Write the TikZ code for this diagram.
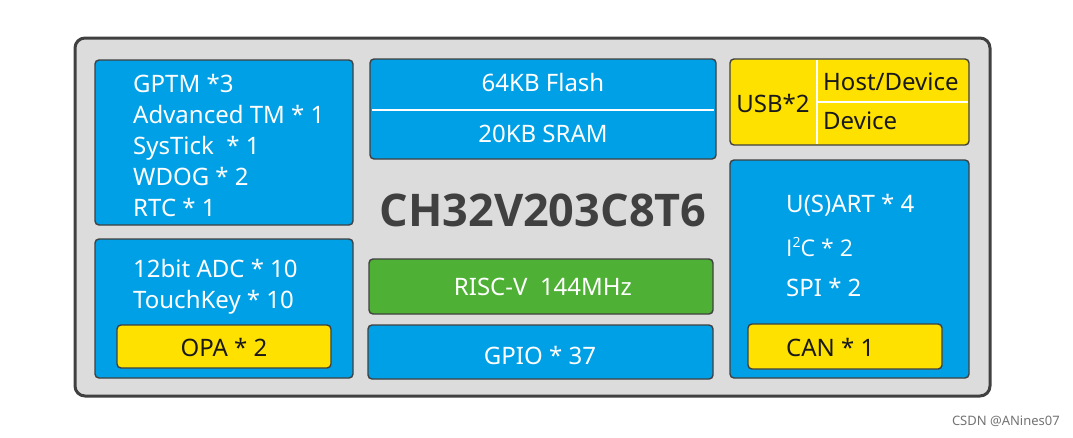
\documentclass[tikz,border=0pt]{standalone}
\usepackage{fontspec}
\setmainfont{Noto Sans}
\newfontfamily\titlefont{Open Sans}
\definecolor{cblue}{RGB}{0,160,230}
\definecolor{cgreen}{RGB}{78,176,52}
\definecolor{cyellow}{RGB}{255,225,0}
\definecolor{cborder}{RGB}{64,64,64}
\definecolor{cbg}{RGB}{220,220,220}
\definecolor{ctitle}{RGB}{64,64,64}
\begin{document}
\begin{tikzpicture}[x=1pt,y=-1pt,
  chipbox/.style={draw=cborder, fill=cbg, line width=3pt, rounded corners=10pt, inner sep=0pt},
  blk/.style={draw=cborder, line width=1.4pt, rounded corners=4pt, inner sep=0pt},
  blueblk/.style={blk, fill=cblue},
  greenblk/.style={blk, fill=cgreen},
  yellowblk/.style={blk, fill=cyellow},
  wtxt/.style={text=white, inner sep=0pt, font=\fontsize{24}{31}\selectfont},
  btxt/.style={text=black!90, inner sep=0pt, font=\fontsize{24}{31}\selectfont},
  divider/.style={draw=white, line width=2.5pt}
]
\useasboundingbox (0,0) rectangle (1073,437);
% outer chip
\node[chipbox, minimum width=915pt, minimum height=358pt] (chip) at (532.5,217) {};
% left column
\node[blueblk, minimum width=258pt, minimum height=165pt] (timers) at (224,142.5) {};
\node[wtxt, align=left, anchor=west] (timertxt) at (133,145) {GPTM *3\\Advanced TM * 1\\SysTick~ * 1\\WDOG * 2\\RTC * 1};
\node[blueblk, minimum width=258pt, minimum height=139pt] (analog) at (224,308.5) {};
\node[wtxt, align=left, anchor=west] (adctxt) at (133,287) {12bit ADC * 10\\TouchKey * 10};
\node[yellowblk, minimum width=214pt, minimum height=43pt] (opa) at (224,346.5) {};
\node[btxt] (opatxt) at (224,347) {OPA * 2};
% middle column
\node[blueblk, minimum width=346pt, minimum height=100pt] (mem) at (543,109) {};
\draw[divider] (372,110) -- (714,110);
\node[wtxt] (flash) at (543,82) {64KB Flash};
\node[wtxt] (sram) at (543,134) {20KB SRAM};
\node[text=ctitle, inner sep=0pt, font=\titlefont\fontsize{45}{50}\selectfont\bfseries] (title) at (543,210) {CH32V203C8T6};
\node[greenblk, minimum width=344pt, minimum height=55pt] (cpu) at (541,286.5) {};
\node[wtxt] (cputxt) at (543,287) {RISC-V~ 144MHz};
\node[blueblk, minimum width=345pt, minimum height=54pt] (gpio) at (540.5,352) {};
\node[wtxt] (gpiotxt) at (540,355) {GPIO * 37};
% right column
\node[yellowblk, minimum width=239pt, minimum height=86pt] (usb) at (849.5,102) {};
\draw[divider] (817,60) -- (817,144);
\draw[divider] (817,102) -- (968,102);
\node[btxt] (usbtxt) at (773,103) {USB*2};
\node[btxt, anchor=west] (host) at (823,82) {Host/Device};
\node[btxt, anchor=west] (dev) at (823,121) {Device};
\node[blueblk, minimum width=239pt, minimum height=218pt] (comm) at (849.5,269) {};
\node[wtxt, anchor=west] (uart) at (786,205) {U(S)ART * 4};
\node[wtxt, anchor=west, font=\titlefont\fontsize{23}{31}\selectfont] (i2c) at (786,247) {I\raisebox{0.38em}{\fontsize{14}{14}\selectfont 2}C * 2};
\node[wtxt, anchor=west] (spi) at (786,287) {SPI * 2};
\node[yellowblk, minimum width=194pt, minimum height=45pt] (can) at (845,346.5) {};
\node[btxt, anchor=west] (cantxt) at (786,347) {CAN * 1};
% watermark
\node[text=black!55, inner sep=0pt, anchor=east, font=\fontsize{13}{15}\selectfont] (wm) at (1060,421) {CSDN @ANines07};
\end{tikzpicture}
\end{document}
